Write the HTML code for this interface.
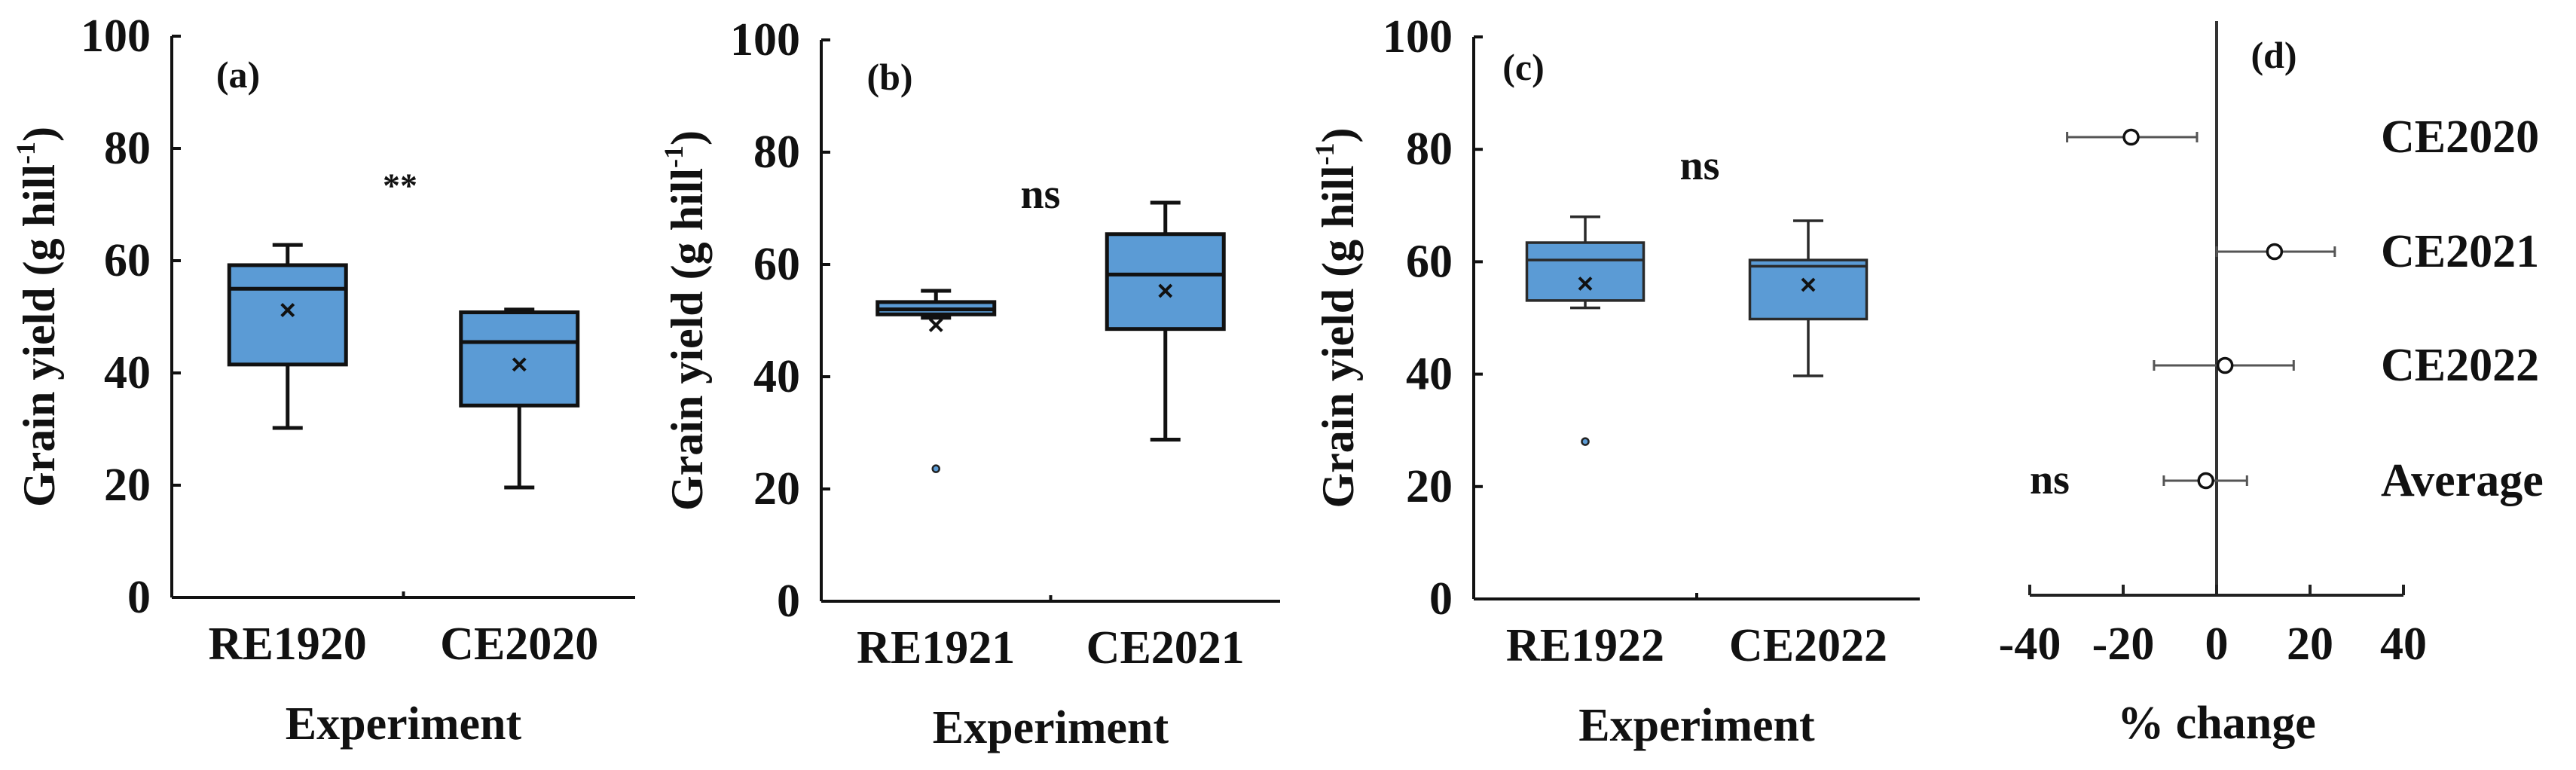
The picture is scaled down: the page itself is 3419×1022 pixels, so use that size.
<!DOCTYPE html>
<html><head><meta charset="utf-8">
<style>
html,body{margin:0;padding:0;background:#fff;}
svg{display:block;}
text{font-family:"Liberation Serif",serif;font-weight:bold;fill:#111;}
</style></head>
<body>
<svg id="chart" width="3419" height="1022" viewBox="0 0 3419 1022" xmlns="http://www.w3.org/2000/svg"></svg>
<script>
// Panel box-plot data (g hill-1)
const catsA = ["RE1920","CE2020"];
const minA = [30.2, 19.6], q1A = [41.5, 34.2], medA = [55, 45.5], q3A = [59.2, 50.8], maxA = [62.8, 51.3], meanA = [51.2, 41.5];
const outA = [null, null];
const catsB = ["RE1921","CE2021"];
const minB = [50.5, 28.8], q1B = [51.1, 48.5], medB = [52, 58.2], q3B = [53.3, 65.4], maxB = [55.3, 71], meanB = [49.2, 55.3];
const outB = [23.6, null];
const catsC = ["RE1922","CE2022"];
const minC = [51.8, 39.7], q1C = [53.1, 49.8], medC = [60.3, 59.2], q3C = [63.4, 60.3], maxC = [68, 67.3], meanC = [56.1, 55.9];
const outC = [28, null];
const yTicks = [0, 20, 40, 60, 80, 100];
// Panel d data (% change)
const dCats = ["CE2020","CE2021","CE2022","Average"];
const dMean = [-18.3, 12.4, 1.8, -2.3];
const dLow = [-32, 0, -13.4, -11.3];
const dHigh = [-4.2, 25.3, 16.5, 6.5];
const dTicks = [-40, -20, 0, 20, 40];

const svg = document.getElementById('chart');
const NS = 'http://www.w3.org/2000/svg';
function mk(tag, attrs, parent){
  const e = document.createElementNS(NS, tag);
  for (const k in attrs) e.setAttribute(k, attrs[k]);
  (parent||svg).appendChild(e);
  return e;
}
function txt(s, x, y, size, anchor, parent){
  const t = mk('text', {x:x, y:y, 'font-size':size, 'text-anchor':anchor||'middle', 'dominant-baseline':'central'}, parent);
  t.textContent = s;
  return t;
}

function boxPanel(cfg){
  const g = mk('g', {});
  
  
  const yS = v => cfg.y0 - (v/100)*(cfg.y0 - cfg.y100);
  const xS = i => cfg.ax + (cfg.xEnd - cfg.ax) * (i + 0.5) / 2;
  const col = cfg.stroke, sw = cfg.sw;
  const ya = mk('line', {x1:cfg.ax, y1:yS(100), x2:cfg.ax, y2:cfg.y0, stroke:'#111', 'stroke-width':4}, g);
  
  
  const xa = mk('line', {x1:cfg.ax, y1:cfg.y0, x2:cfg.xEnd, y2:cfg.y0, stroke:'#111', 'stroke-width':4}, g);
  
  
  mk('line', {x1:(cfg.ax+cfg.xEnd)/2, y1:cfg.y0, x2:(cfg.ax+cfg.xEnd)/2, y2:cfg.y0-8, stroke:'#111','stroke-width':4}, g);
  yTicks.forEach(v => {
    mk('line', {x1:cfg.ax, y1:yS(v), x2:cfg.ax+12, y2:yS(v), stroke:'#111','stroke-width':4}, g);
    const t = txt(String(v), cfg.ax-28, yS(v), 62, 'end', g);
    
    
  });
  const yt = txt('', 0, 0, 60, 'middle', g);
  yt.setAttribute('transform', `translate(${cfg.titleX},${(yS(100)+cfg.y0)/2}) rotate(-90)`);
  
  
  yt.innerHTML = 'Grain yield (g hill<tspan dy="-18" font-size="36">-1</tspan><tspan dy="18">)</tspan>';
  const xt = txt('Experiment', (cfg.ax+cfg.xEnd)/2, cfg.y0+168, 62, 'middle', g);
  
  
  const pl = txt(cfg.label, cfg.labX, cfg.labY, 50, 'middle', g);
  
  
  const sg = txt(cfg.sig, cfg.sigX, cfg.sigY, cfg.sig === '**' ? 46 : 56, 'middle', g);
  
  
  const bw = 155, cap = 40;
  cfg.cats.forEach((c, i) => {
    const cx = xS(i);
    const cl = txt(c, cx, cfg.y0+62, 62, 'middle', g);
    
    
    const bg = mk('g', {}, g);
    
    
    mk('line', {x1:cx, y1:yS(cfg.max[i]), x2:cx, y2:yS(cfg.q3[i]), stroke:col,'stroke-width':sw}, bg);
    mk('line', {x1:cx, y1:yS(cfg.min[i]), x2:cx, y2:yS(cfg.q1[i]), stroke:col,'stroke-width':sw}, bg);
    mk('line', {x1:cx-cap/2, y1:yS(cfg.max[i]), x2:cx+cap/2, y2:yS(cfg.max[i]), stroke:col,'stroke-width':sw}, bg);
    mk('line', {x1:cx-cap/2, y1:yS(cfg.min[i]), x2:cx+cap/2, y2:yS(cfg.min[i]), stroke:col,'stroke-width':sw}, bg);
    mk('rect', {x:cx-bw/2, y:yS(cfg.q3[i]), width:bw, height:Math.max(2, yS(cfg.q1[i])-yS(cfg.q3[i])), fill:'#5b9bd5', stroke:col, 'stroke-width':sw}, bg);
    mk('line', {x1:cx-bw/2, y1:yS(cfg.med[i]), x2:cx+bw/2, y2:yS(cfg.med[i]), stroke:col,'stroke-width':sw}, bg);
    const my = yS(cfg.mean[i]), m = 8;
    mk('path', {d:`M${cx-m},${my-m}L${cx+m},${my+m}M${cx+m},${my-m}L${cx-m},${my+m}`, stroke:'#111','stroke-width':4}, bg);
    if (cfg.out[i] !== null) {
      const o = mk('circle', {cx:cx, cy:yS(cfg.out[i]), r:4.5, fill:'#5b9bd5', stroke:'#222','stroke-width':2.5}, bg);
      
      
    }
  });
}

boxPanel({name:'panel-a', ax:228, xEnd:843, y0:793, y100:48, titleX:52, label:'(a)', labX:316, labY:99, sig:'**', sigX:531, sigY:246,
  cats:catsA, min:minA, q1:q1A, med:medA, q3:q3A, max:maxA, mean:meanA, out:outA, stroke:'#111', sw:5});
boxPanel({name:'panel-b', ax:1090, xEnd:1699, y0:798, y100:53, titleX:912, label:'(b)', labX:1181, labY:102, sig:'ns', sigX:1381, sigY:258,
  cats:catsB, min:minB, q1:q1B, med:medB, q3:q3B, max:maxB, mean:meanB, out:outB, stroke:'#111', sw:5});
boxPanel({name:'panel-c', ax:1956, xEnd:2548, y0:795, y100:49, titleX:1776, label:'(c)', labX:2022, labY:89, sig:'ns', sigX:2256, sigY:220,
  cats:catsC, min:minC, q1:q1C, med:medC, q3:q3C, max:maxC, mean:meanC, out:outC, stroke:'#2a2a2a', sw:3.5});

// Panel d
(function(){
  const g = mk('g', {});
  
  
  const x0 = 2694, x1 = 3190, yA = 790;
  const xS = v => x0 + (v + 40) / 80 * (x1 - x0);
  const rowY = [182, 334, 485, 638];
  const xa = mk('line', {x1:x0, y1:yA, x2:x1, y2:yA, stroke:'#222','stroke-width':4}, g);
  
  
  const za = mk('line', {x1:xS(0), y1:28, x2:xS(0), y2:yA, stroke:'#333','stroke-width':4}, g);
  
  
  dTicks.forEach(v => {
    mk('line', {x1:xS(v), y1:yA, x2:xS(v), y2:yA-14, stroke:'#222','stroke-width':4}, g);
    const t = txt(String(v), xS(v), yA+65, 62, 'middle', g);
    
    
  });
  const xt = txt('% change', xS(0), 960, 62, 'middle', g);
  
  
  const pl = txt('(d)', 3018, 73, 50, 'middle', g);
  
  
  const ns = txt('ns', 2694, 637, 56, 'start', g);
  
  
  dCats.forEach((c, i) => {
    const y = rowY[i];
    const e = mk('g', {}, g);
    
    
    mk('line', {x1:xS(dLow[i]), y1:y, x2:xS(dHigh[i]), y2:y, stroke:'#555','stroke-width':3}, e);
    mk('line', {x1:xS(dLow[i]), y1:y-7, x2:xS(dLow[i]), y2:y+7, stroke:'#555','stroke-width':3}, e);
    mk('line', {x1:xS(dHigh[i]), y1:y-7, x2:xS(dHigh[i]), y2:y+7, stroke:'#555','stroke-width':3}, e);
    mk('circle', {cx:xS(dMean[i]), cy:y, r:9.5, fill:'#fff', stroke:'#111','stroke-width':3.5}, e);
    const l = txt(c, 3160, y, 62, 'start', g);
    
    
  });
})();
</script>
</body></html>
